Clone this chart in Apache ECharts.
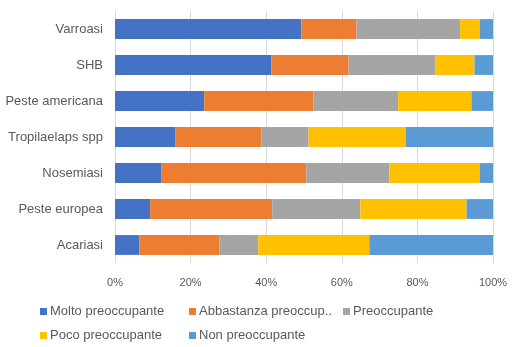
<!DOCTYPE html>
<html>
<head>
<meta charset="utf-8">
<script src="https://cdn.jsdelivr.net/npm/echarts@6/dist/echarts.min.js"></script>
<style>html,body{margin:0;padding:0;background:#fff;}#c{width:519px;height:347px;}</style>
</head>
<body>
<div id="c"></div>
<script>
const categories = ['Varroasi', 'SHB', 'Peste americana', 'Tropilaelaps spp', 'Nosemiasi', 'Peste europea', 'Acariasi'];
const seriesNames = ['Molto preoccupante', 'Abbastanza preoccupante', 'Preoccupante', 'Poco preoccupante', 'Non preoccupante'];
const molto = [49.3, 41.4, 23.6, 15.9, 12.2, 9.3, 6.4];
const abbastanza = [14.6, 20.4, 28.9, 22.8, 38.4, 32.3, 21.2];
const preoccupante = [27.4, 22.9, 22.4, 12.5, 22.0, 23.3, 10.3];
const poco = [5.2, 10.4, 19.4, 25.7, 23.9, 28.1, 29.4];
const non = [3.5, 4.9, 5.7, 23.1, 3.5, 7.0, 32.7];
const tickLabels = ['0%', '20%', '40%', '60%', '80%', '100%'];

const colors = ['#4472C4', '#ED7D31', '#A5A5A5', '#FFC000', '#5B9BD5'];
const values = [molto, abbastanza, preoccupante, poco, non];
const font = 'Liberation Sans, Arial, sans-serif';
const legendPos = [[40, 305], [189, 305], [343, 305], [40, 329], [189, 329]];

const chart = echarts.init(document.getElementById('c'), null, {renderer: 'canvas'});
chart.setOption({
  animation: false,
  color: colors,
  grid: {left: 115, right: 26, top: 11, bottom: 84, containLabel: false},
  xAxis: {
    type: 'value', min: 0, max: 100, interval: 20,
    axisLabel: {formatter: v => tickLabels[v / 20], color: '#595959', fontSize: 11, fontFamily: font, margin: 14},
    splitLine: {lineStyle: {color: '#D9D9D9', width: 1}},
    axisLine: {show: false}, axisTick: {show: false}
  },
  yAxis: {
    type: 'category', data: categories, inverse: true,
    axisLabel: {color: '#595959', fontSize: 13, fontFamily: font, margin: 12},
    axisLine: {show: false}, axisTick: {show: false}
  },
  legend: seriesNames.map((n, i) => ({
    data: [n], left: legendPos[i][0], top: legendPos[i][1], padding: 0,
    itemWidth: 7, itemHeight: 7, icon: 'rect', itemGap: 0,
    textStyle: {color: '#595959', fontSize: 13, fontFamily: font, padding: [0, 0, 0, -2]},
    formatter: name => name === 'Abbastanza preoccupante' ? 'Abbastanza preoccup..' : name
  })),
  series: seriesNames.map((n, i) => ({
    name: n, type: 'bar', stack: 'total', data: values[i],
    barWidth: '55%'
  }))
});
</script>
</body>
</html>
